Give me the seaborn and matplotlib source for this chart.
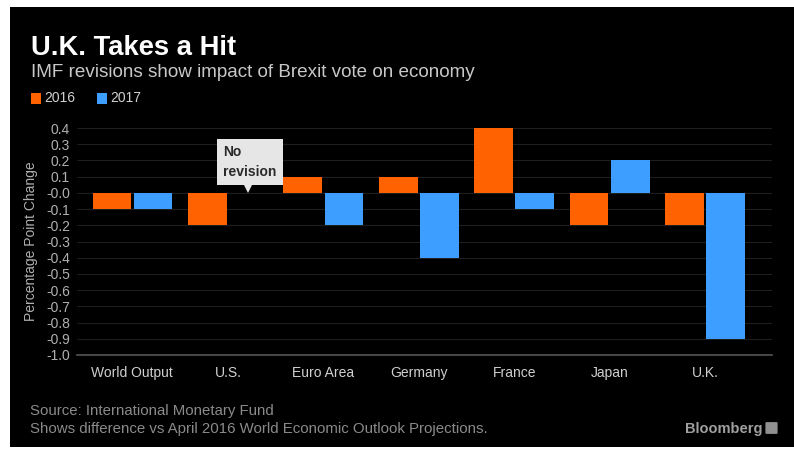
import matplotlib
matplotlib.use("Agg")
import matplotlib.pyplot as plt
from matplotlib.patches import Rectangle, FancyBboxPatch
from matplotlib import font_manager
import seaborn as sns
import pandas as pd

# ---- data ----
regions = ["World Output", "U.S.", "Euro Area", "Germany", "France", "Japan", "U.K."]
rev_2016 = [-0.1, -0.2, 0.1, 0.1, 0.4, -0.2, -0.2]
rev_2017 = [-0.1, 0.0, -0.2, -0.4, -0.1, 0.2, -0.9]
years = ["2016", "2017"]
ytick_vals = [0.4, 0.3, 0.2, 0.1, 0.0, -0.1, -0.2, -0.3, -0.4, -0.5, -0.6, -0.7, -0.8, -0.9, -1.0]
ytick_labels = ["0.4", "0.3", "0.2", "0.1", "-0.0", "-0.1", "-0.2", "-0.3", "-0.4",
                "-0.5", "-0.6", "-0.7", "-0.8", "-0.9", "-1.0"]

ORANGE = "#ff6200"
BLUE = "#3d9eff"

df = pd.DataFrame({
    "region": regions * 2,
    "value": rev_2016 + rev_2017,
    "year": [years[0]] * len(regions) + [years[1]] * len(regions),
})

sns.set_style("dark")
names = {f.name for f in font_manager.fontManager.ttflist}
sans = "Liberation Sans" if "Liberation Sans" in names else "DejaVu Sans"
plt.rcParams["font.family"] = [sans, "DejaVu Sans"]

fig = plt.figure(figsize=(7.94, 4.55), dpi=100, facecolor="white")
W, H = 794, 455
# black panel
fig.patches.append(Rectangle((10 / W, 1 - 447 / H), 784 / W, 440 / H,
                             transform=fig.transFigure, facecolor="black",
                             edgecolor="none", zorder=-10))

ax = fig.add_axes([77 / W, 1 - 355 / H, (772 - 77) / W, (355 - 128) / H])
ax.set_facecolor("black")

sns.barplot(data=df, x="region", y="value", hue="year", palette=[ORANGE, BLUE],
            width=0.86, gap=0.06, saturation=1, legend=False, ax=ax, zorder=3,
            linewidth=0, edgecolor="none")

ax.set_xlim(-0.58, 6.7)
ax.set_ylim(-1.0, 0.4)
ax.set_yticks(ytick_vals)
ax.set_yticklabels(ytick_labels)
ax.grid(axis="y", color="#1e1e1e", linewidth=0.8, zorder=0)
ax.grid(axis="x", visible=False)
for s in ["top", "right", "left"]:
    ax.spines[s].set_visible(False)
ax.spines["bottom"].set_visible(True)
ax.spines["bottom"].set_color("#555555")
ax.spines["bottom"].set_linewidth(1.2)
ax.spines["bottom"].set_zorder(4)
ax.tick_params(axis="y", colors="#b0b0b0", labelsize=10, length=0, pad=5)
ax.tick_params(axis="x", colors="#555555", labelcolor="#d0d0d0", labelsize=10,
               length=3, width=1, direction="in", pad=8)
ax.set_xlabel("")
ax.set_ylabel("Percentage Point Change", color="#b0b0b0", fontsize=10, labelpad=6)

# "No revision" callout on the U.S. 2017 bar (value 0)
us_idx = regions.index("U.S.")
bx = us_idx + 0.215
ax.annotate("No\nrevision", xy=(bx, rev_2017[us_idx] + 0.02),
            xytext=(us_idx - 0.048, 0.2945), textcoords="data",
            ha="left", va="top", fontsize=10, fontweight="bold", color="#2a2a2a",
            linespacing=1.55,
            bbox=dict(boxstyle="square,pad=0.45", facecolor="#e6e6e6", edgecolor="none"),
            zorder=6)
ax.plot([bx], [rev_2017[us_idx] + 0.026], marker="v", markersize=6,
        color="#e6e6e6", markeredgewidth=0, zorder=6, clip_on=False)

# title / subtitle
fig.text(31 / W, 1 - 55 / H, "U.K. Takes a Hit", color="white", fontsize=19.7,
         fontweight="bold", ha="left", va="baseline")
fig.text(31 / W, 1 - 77 / H, "IMF revisions show impact of Brexit vote on economy",
         color="#c8c8c8", fontsize=13.6, ha="left", va="baseline")

# legend
for i, (lab, col) in enumerate(zip(years, [ORANGE, BLUE])):
    x0 = [31, 97][i]
    fig.patches.append(Rectangle((x0 / W, 1 - 104 / H), 10 / W, 11 / H,
                                 transform=fig.transFigure, facecolor=col,
                                 edgecolor="none", zorder=2))
    fig.text((x0 + 13) / W, 1 - 98.5 / H, lab, color="#d0d0d0", fontsize=10,
             ha="left", va="center")

# footer
fig.text(30 / W, 1 - 415 / H, "Source: International Monetary Fund",
         color="#8a8a8a", fontsize=10.8, ha="left", va="baseline")
fig.text(30 / W, 1 - 433 / H,
         "Shows difference vs April 2016 World Economic Outlook Projections.",
         color="#8a8a8a", fontsize=10.8, ha="left", va="baseline")
fig.text(762 / W, 1 - 433 / H, "Bloomberg", color="#a0a0a0", fontsize=10.5,
         fontweight="bold", ha="right", va="baseline")
fig.patches.append(FancyBboxPatch((767 / W, 1 - 433 / H), 9 / W, 10 / H,
                                  boxstyle="round,pad=0.002",
                                  transform=fig.transFigure, facecolor="#909090",
                                  edgecolor="none", zorder=2))

fig.savefig("out.png", dpi=100, facecolor="white")
